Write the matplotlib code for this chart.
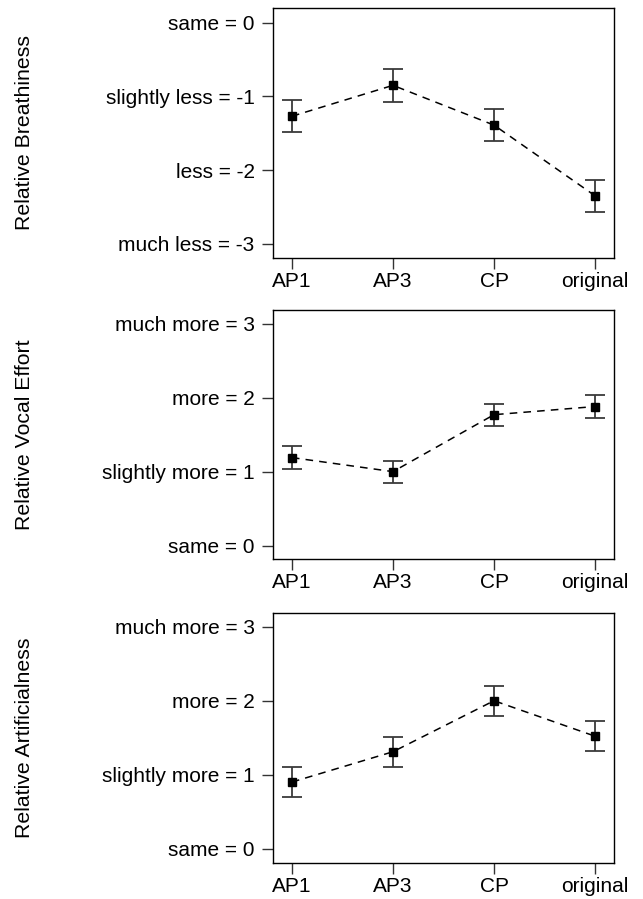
import matplotlib
matplotlib.use("Agg")
import matplotlib.pyplot as plt

plt.rcParams['font.family'] = ['Liberation Sans', 'DejaVu Sans']

categories = ["AP1", "AP3", "CP", "original"]

breath_mean = [-1.27, -0.85, -1.39, -2.35]
breath_err = [0.22, 0.22, 0.22, 0.22]
effort_mean = [1.19, 1.00, 1.77, 1.88]
effort_err = [0.15, 0.15, 0.15, 0.15]
artif_mean = [0.90, 1.31, 2.00, 1.52]
artif_err = [0.20, 0.20, 0.20, 0.20]

breath_ticks = [0, -1, -2, -3]
breath_labels = ["same = 0", "slightly less = -1", "less = -2", "much less = -3"]
more_ticks = [3, 2, 1, 0]
more_labels = ["much more = 3", "more = 2", "slightly more = 1", "same = 0"]

panels = [
    ("Relative Breathiness", breath_mean, breath_err, breath_ticks, breath_labels, (-3.19, 0.20)),
    ("Relative Vocal Effort", effort_mean, effort_err, more_ticks, more_labels, (-0.185, 3.185)),
    ("Relative Artificialness", artif_mean, artif_err, more_ticks, more_labels, (-0.19, 3.19)),
]

W, H = 643, 899
fig = plt.figure(figsize=(W / 100, H / 100), dpi=100)

boxes_px = [(8, 257.7), (310, 559.3), (612.7, 862.7)]
left_px, right_px = 272.7, 614.3

x = list(range(1, len(categories) + 1))
for (ylabel, mean, err, ticks, labels, ylim), (top, bot) in zip(panels, boxes_px):
    ax = fig.add_axes([left_px / W, 1 - bot / H, (right_px - left_px) / W, (bot - top) / H])
    ax.errorbar(x, mean, yerr=err, fmt='none', ecolor='#3a3a3a', elinewidth=1.3,
                capsize=7.5, capthick=1.3, zorder=2)
    ax.plot(x, mean, linestyle=(0, (5, 4)), color='black', linewidth=1.1,
            marker='s', markersize=5.5, markerfacecolor='black', markeredgecolor='black', zorder=3)
    ax.set_xlim(0.81, 4.19)
    ax.set_ylim(*ylim)
    ax.set_xticks(x)
    ax.set_xticklabels(categories)
    ax.set_yticks(ticks)
    ax.set_yticklabels(labels)
    ax.tick_params(axis='both', labelsize=15, length=8, width=1.0, color='#333333', direction='out')
    ax.tick_params(axis='y', pad=5)
    ax.tick_params(axis='x', pad=2)
    for s in ax.spines.values():
        s.set_linewidth(1.0)
        s.set_color('black')
    cy = (top + bot) / 2
    fig.text(24 / W, 1 - cy / H, ylabel, rotation=90, ha='center', va='center', fontsize=15.3)

fig.savefig("out.png", dpi=100)
